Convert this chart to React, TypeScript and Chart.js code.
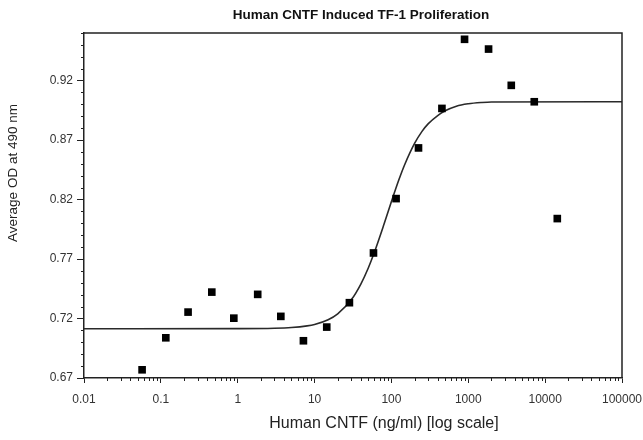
import { useEffect, useRef } from "react";
import { Chart, registerables } from "chart.js";

Chart.register(...registerables);

const CHART_TITLE = "Human CNTF Induced TF-1 Proliferation";
const X_TITLE = "Human CNTF (ng/ml) [log scale]";
const Y_TITLE = "Average OD at 490 nm";

// measured points (concentration, average OD)
const CONC = [0.057, 0.116, 0.226, 0.46, 0.89, 1.82, 3.64, 7.16, 14.4, 28.4, 58.4, 115, 225, 454, 894, 1836, 3625, 7220, 14390];
const OD = [0.6769, 0.7038, 0.7254, 0.7422, 0.7203, 0.7403, 0.7218, 0.7013, 0.7128, 0.7333, 0.7751, 0.8208, 0.8634, 0.8966, 0.9547, 0.9465, 0.916, 0.9022, 0.804];

// fitted curve
const FIT_X = [0.01, 1, 3, 5, 8, 10, 15, 20, 30, 40, 50, 60, 80, 100, 125, 150, 200, 250, 300, 400, 500, 700, 1000, 1500, 2000, 100000];
const FIT_Y = [0.7114, 0.7115, 0.7118, 0.7124, 0.7138, 0.715, 0.719, 0.724, 0.7357, 0.749, 0.7625, 0.7757, 0.7992, 0.8183, 0.8366, 0.8499, 0.8672, 0.8773, 0.8836, 0.8906, 0.8946, 0.8985, 0.9005, 0.9016, 0.902, 0.9022];

const X_TICKS = [0.01, 0.1, 1, 10, 100, 1000, 10000, 100000];
const X_TICK_LABELS = ["0.01", "0.1", "1", "10", "100", "1000", "10000", "100000"];
const Y_TICKS = [0.67, 0.72, 0.77, 0.82, 0.87, 0.92];
const Y_TICK_LABELS = ["0.67", "0.72", "0.77", "0.82", "0.87", "0.92"];
const Y_MINOR_STEP = 0.01;
const X_MIN = 0.01;
const X_MAX = 100000;
const Y_MIN = 0.67;
const Y_MAX = 0.96;

const FONT = "'Liberation Sans', Arial, sans-serif";

const decor = {
  id: "decor",
  afterDraw(chart: any) {
    const { ctx, chartArea: a, scales } = chart;
    const xs = scales.x;
    const ys = scales.y;
    ctx.save();
    // frame top and right
    ctx.strokeStyle = "#222";
    ctx.lineWidth = 1.5;
    ctx.beginPath();
    ctx.moveTo(a.left, a.top);
    ctx.lineTo(a.right, a.top);
    ctx.lineTo(a.right, a.bottom);
    ctx.stroke();
    // minor ticks
    ctx.lineWidth = 1;
    ctx.beginPath();
    for (let e = Math.log10(X_MIN); e < Math.log10(X_MAX); e++) {
      for (let m = 2; m <= 9; m++) {
        const px = Math.round(xs.getPixelForValue(m * Math.pow(10, e))) + 0.5;
        ctx.moveTo(px, a.bottom);
        ctx.lineTo(px, a.bottom + 3);
      }
    }
    const n = Math.round((Y_MAX - Y_MIN) / Y_MINOR_STEP);
    for (let i = 1; i <= n; i++) {
      const v = Y_MIN + i * Y_MINOR_STEP;
      if (Y_TICKS.some((t) => Math.abs(t - v) < 1e-6)) continue;
      const py = Math.round(ys.getPixelForValue(v)) + 0.5;
      ctx.moveTo(a.left, py);
      ctx.lineTo(a.left - 3, py);
    }
    ctx.stroke();
    // texts
    ctx.fillStyle = "#111";
    ctx.textAlign = "center";
    ctx.textBaseline = "middle";
    ctx.font = `bold 13.5px ${FONT}`;
    ctx.fillText(CHART_TITLE, 361, 15.5);
    ctx.fillStyle = "#222";
    ctx.font = `16px ${FONT}`;
    ctx.fillText(X_TITLE, 384, 424);
    ctx.translate(13.5, 173);
    ctx.rotate(-Math.PI / 2);
    ctx.font = `13.5px ${FONT}`;
    ctx.fillText(Y_TITLE, 0, 0);
    ctx.restore();
  },
};

export default function App() {
  const ref = useRef<HTMLCanvasElement | null>(null);
  useEffect(() => {
    if (!ref.current) return;
    const points = CONC.map((c, i) => ({ x: c, y: OD[i] }));
    const fit = FIT_X.map((c, i) => ({ x: c, y: FIT_Y[i] }));
    const chart = new Chart(ref.current, {
      type: "scatter",
      data: {
        datasets: [
          {
            label: "Average OD",
            data: points,
            pointStyle: "rect",
            pointRadius: 5.4,
            pointBorderWidth: 0,
            backgroundColor: "#000",
            borderColor: "#000",
          },
          {
            label: "Fit",
            data: fit,
            showLine: true,
            pointRadius: 0,
            borderColor: "#2a2a2a",
            borderWidth: 1.6,
            cubicInterpolationMode: "monotone",
            fill: false,
          },
        ],
      },
      options: {
        animation: false,
        responsive: false,
        devicePixelRatio: 1,
        layout: { padding: { top: 33, right: 21, left: 0, bottom: 0 } },
        plugins: {
          legend: { display: false },
          tooltip: { enabled: false },
          title: { display: false },
        },
        scales: {
          x: {
            type: "logarithmic",
            min: X_MIN,
            max: X_MAX,
            afterBuildTicks: (s: any) => {
              s.ticks = X_TICKS.map((v) => ({ value: v }));
            },
            afterFit: (s: any) => {
              s.height = 62;
              s.paddingLeft = 0;
              s.paddingRight = 0;
            },
            ticks: {
              autoSkip: false,
              maxRotation: 0,
              padding: 9,
              color: "#333",
              font: { family: FONT, size: 12 },
              callback: (_v: any, i: number) => X_TICK_LABELS[i],
            },
            grid: { drawOnChartArea: false, drawTicks: true, tickLength: 5, tickColor: "#222", tickWidth: 1 },
            border: { display: true, color: "#222", width: 1.5 },
          },
          y: {
            type: "linear",
            min: Y_MIN,
            max: Y_MAX,
            afterBuildTicks: (s: any) => {
              s.ticks = Y_TICKS.map((v) => ({ value: v }));
            },
            afterFit: (s: any) => {
              s.width = 84;
              s.paddingTop = 0;
              s.paddingBottom = 0;
            },
            ticks: {
              autoSkip: false,
              padding: 4,
              color: "#333",
              font: { family: FONT, size: 12 },
              callback: (_v: any, i: number) => Y_TICK_LABELS[i],
            },
            grid: { drawOnChartArea: false, drawTicks: true, tickLength: 7, tickColor: "#222", tickWidth: 1 },
            border: { display: true, color: "#222", width: 1.5 },
          },
        },
      },
      plugins: [decor],
    });
    return () => chart.destroy();
  }, []);
  return (
    <div style={{ position: "absolute", left: 0, top: 0, width: 643, height: 440, background: "#fff" }}>
      <canvas ref={ref} width={643} height={440} />
    </div>
  );
}
